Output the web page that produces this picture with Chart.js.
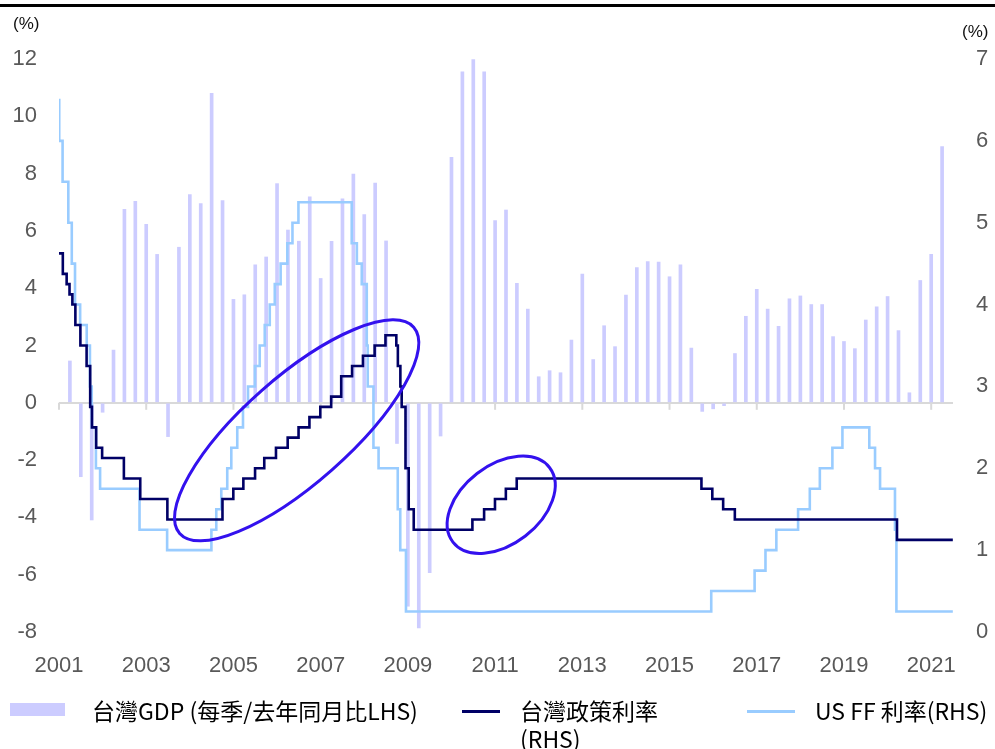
<!DOCTYPE html>
<html>
<head>
<meta charset="utf-8">
<script src="https://cdn.jsdelivr.net/npm/chart.js@4.4.0/dist/chart.umd.min.js"></script>
<style>
  html, body { margin: 0; padding: 0; background: #fff; }
  #wrap { position: relative; width: 995px; height: 749px; overflow: hidden; }
  #chart { position: absolute; left: 0; top: 0; }
  #topRule { position: absolute; left: 0; top: 4px; width: 995px; height: 3px; background: #000; }
  .unit { position: absolute; font: 17px "Liberation Sans", Arial, sans-serif; color: #111; }
  .legend-item { position: absolute; font: 23px "Noto Sans CJK TC", sans-serif; color: #000; line-height: 28px; white-space: nowrap; }
  .legend-swatch { position: absolute; }
</style>
</head>
<body>
<div id="wrap">
  <canvas id="chart" width="995" height="749"></canvas>
  <div id="topRule"></div>
  <div class="unit" style="left:13px; top:14px;">(%)</div>
  <div class="unit" style="left:962px; top:22px;">(%)</div>
  <div id="legend"></div>
</div>
<script>
// Quarterly Taiwan GDP, y/y % (left axis)
const gdpQuarters = [
  "2001Q1", "2001Q2", "2001Q3", "2001Q4",
  "2002Q1", "2002Q2", "2002Q3", "2002Q4",
  "2003Q1", "2003Q2", "2003Q3", "2003Q4",
  "2004Q1", "2004Q2", "2004Q3", "2004Q4",
  "2005Q1", "2005Q2", "2005Q3", "2005Q4",
  "2006Q1", "2006Q2", "2006Q3", "2006Q4",
  "2007Q1", "2007Q2", "2007Q3", "2007Q4",
  "2008Q1", "2008Q2", "2008Q3", "2008Q4",
  "2009Q1", "2009Q2", "2009Q3", "2009Q4",
  "2010Q1", "2010Q2", "2010Q3", "2010Q4",
  "2011Q1", "2011Q2", "2011Q3", "2011Q4",
  "2012Q1", "2012Q2", "2012Q3", "2012Q4",
  "2013Q1", "2013Q2", "2013Q3", "2013Q4",
  "2014Q1", "2014Q2", "2014Q3", "2014Q4",
  "2015Q1", "2015Q2", "2015Q3", "2015Q4",
  "2016Q1", "2016Q2", "2016Q3", "2016Q4",
  "2017Q1", "2017Q2", "2017Q3", "2017Q4",
  "2018Q1", "2018Q2", "2018Q3", "2018Q4",
  "2019Q1", "2019Q2", "2019Q3", "2019Q4",
  "2020Q1", "2020Q2", "2020Q3", "2020Q4",
  "2021Q1"
];
const gdpValues = [
  1.46, -2.58, -4.09, -0.33,
  1.84, 6.75, 7.03, 6.23,
  5.18, -1.18, 5.43, 7.27,
  6.95, 10.8, 7.06, 3.61,
  3.77, 4.82, 5.09, 7.65,
  6.03, 5.64, 7.19, 4.34,
  5.64, 7.12, 7.98, 6.57,
  7.67, 5.65, -1.42, -7.1,
  -7.86, -5.93, -1.16, 8.57,
  11.55, 11.98, 11.55, 6.36,
  6.73, 4.17, 3.27, 0.91,
  1.12, 1.05, 2.19, 4.49,
  1.51, 2.69, 1.96, 3.76,
  4.72, 4.93, 4.91, 4.4,
  4.82, 1.91, -0.3, -0.21,
  -0.1, 1.72, 3.02, 3.96,
  3.27, 2.67, 3.63, 3.73,
  3.43, 3.43, 2.31, 2.14,
  1.89, 2.89, 3.35, 3.71,
  2.52, 0.35, 4.27, 5.18,
  8.94
];

// Taiwan policy (rediscount) rate, date of each change (right axis)
const twRateDates = [
  "2001-01-01", "2001-02-02", "2001-03-06", "2001-03-30", "2001-04-23", "2001-05-18",
  "2001-06-29", "2001-08-20", "2001-09-19", "2001-10-04", "2001-11-08", "2001-12-28",
  "2002-06-28", "2002-11-12", "2003-06-27", "2004-10-01", "2004-12-31",
  "2005-03-25", "2005-07-01", "2005-09-16", "2005-12-23",
  "2006-03-31", "2006-06-30", "2006-09-29", "2006-12-29",
  "2007-03-30", "2007-06-22", "2007-09-21", "2007-12-21",
  "2008-03-28", "2008-06-27", "2008-09-26", "2008-10-09", "2008-10-30", "2008-11-10", "2008-12-12",
  "2009-01-08", "2009-02-19", "2010-06-25", "2010-10-01", "2010-12-31", "2011-04-01", "2011-07-01",
  "2015-09-25", "2015-12-25", "2016-03-25", "2016-07-01", "2020-03-20", "2021-07-01"
];
const twRateValues = [
  4.625, 4.375, 4.25, 4.125, 4.0, 3.75,
  3.5, 3.25, 2.75, 2.5, 2.25, 2.125,
  1.875, 1.625, 1.375, 1.625, 1.75,
  1.875, 2.0, 2.125, 2.25,
  2.375, 2.5, 2.625, 2.75,
  2.875, 3.125, 3.25, 3.375,
  3.5, 3.625, 3.5, 3.25, 3.0, 2.75, 2.0,
  1.5, 1.25, 1.375, 1.5, 1.625, 1.75, 1.875,
  1.75, 1.625, 1.5, 1.375, 1.125, 1.125
];

// US fed funds target rate, date of each change (right axis)
const usRateDates = [
  "2001-01-01", "2001-01-03", "2001-01-31", "2001-03-20", "2001-04-18", "2001-05-15",
  "2001-06-27", "2001-08-21", "2001-09-17", "2001-10-02", "2001-11-06", "2001-12-11",
  "2002-11-06", "2003-06-25",
  "2004-06-30", "2004-08-10", "2004-09-21", "2004-11-10", "2004-12-14",
  "2005-02-02", "2005-03-22", "2005-05-03", "2005-06-30", "2005-08-09", "2005-09-20", "2005-11-01", "2005-12-13",
  "2006-01-31", "2006-03-28", "2006-05-10", "2006-06-29",
  "2007-09-18", "2007-10-31", "2007-12-11",
  "2008-01-22", "2008-01-30", "2008-03-18", "2008-04-30", "2008-10-08", "2008-10-29", "2008-12-16",
  "2015-12-16", "2016-12-14", "2017-03-15", "2017-06-14", "2017-12-13",
  "2018-03-21", "2018-06-13", "2018-09-26", "2018-12-19",
  "2019-08-01", "2019-09-18", "2019-10-30", "2020-03-03", "2020-03-15", "2021-07-01"
];
const usRateValues = [
  6.5, 6.0, 5.5, 5.0, 4.5, 4.0,
  3.75, 3.5, 3.0, 2.5, 2.0, 1.75,
  1.25, 1.0,
  1.25, 1.5, 1.75, 2.0, 2.25,
  2.5, 2.75, 3.0, 3.25, 3.5, 3.75, 4.0, 4.25,
  4.5, 4.75, 5.0, 5.25,
  4.75, 4.5, 4.25,
  3.5, 3.0, 2.25, 2.0, 1.5, 1.0, 0.25,
  0.5, 0.75, 1.0, 1.25, 1.5,
  1.75, 2.0, 2.25, 2.5,
  2.25, 2.0, 1.75, 1.25, 0.25, 0.25
];

// Axis ticks
const yearTicks = [2001, 2003, 2005, 2007, 2009, 2011, 2013, 2015, 2017, 2019, 2021];
const leftTicks = [-8, -6, -4, -2, 0, 2, 4, 6, 8, 10, 12];
const rightTicks = [0, 1, 2, 3, 4, 5, 6, 7];

// Highlight rings: centre in data units, radii in px, tilt in degrees
const highlightRings = [
  { x: 2006.45, y: -0.96, rx: 156, ry: 53, tilt: -41.4 },
  { x: 2011.14, y: -3.56, rx: 61, ry: 39.5, tilt: -37.7 }
];

const legendItems = [
  { label: "台灣GDP (每季/去年同月比LHS)", color: "#ccccff", kind: "box" },
  { label: "台灣政策利率<br>(RHS)", color: "#000066", kind: "line" },
  { label: "US FF 利率(RHS)", color: "#99ccff", kind: "line" }
];

// decimal year helpers
function quarterPos(q) {
  return parseInt(q.slice(0, 4)) + parseInt(q.slice(5)) / 4;
}
function datePos(d) {
  const [yy, mm, dd] = d.split("-").map(Number);
  const start = Date.UTC(yy, 0, 1);
  const end = Date.UTC(yy + 1, 0, 1);
  return yy + (Date.UTC(yy, mm - 1, dd) - start) / (end - start);
}

const axisFont = { family: "'Liberation Sans', Arial, sans-serif", size: 22 };
const axisColor = "#595959";

// zero line tick marks under each year label
const zeroTicks = {
  id: "zeroTicks",
  beforeDatasetsDraw(chart) {
    const { ctx, scales } = chart;
    const y0 = scales.y.getPixelForValue(0);
    ctx.save();
    ctx.strokeStyle = "#d9d9d9";
    ctx.lineWidth = 2;
    yearTicks.forEach((v) => {
      const px = scales.x.getPixelForValue(v);
      ctx.beginPath();
      ctx.moveTo(px, y0);
      ctx.lineTo(px, y0 + 7);
      ctx.stroke();
    });
    ctx.restore();
  }
};

// rings drawn over the rate lines
const rings = {
  id: "rings",
  afterDatasetsDraw(chart) {
    const { ctx, scales } = chart;
    ctx.save();
    ctx.strokeStyle = "#3311ee";
    ctx.lineWidth = 3;
    highlightRings.forEach((r) => {
      ctx.beginPath();
      ctx.ellipse(
        scales.x.getPixelForValue(r.x),
        scales.y.getPixelForValue(r.y),
        r.rx, r.ry, (r.tilt * Math.PI) / 180, 0, Math.PI * 2
      );
      ctx.stroke();
    });
    ctx.restore();
  }
};

const ctx = document.getElementById("chart").getContext("2d");
new Chart(ctx, {
  type: "bar",
  data: {
    datasets: [
      {
        type: "line",
        label: "台灣政策利率 (RHS)",
        data: twRateDates.map((d, i) => ({ x: datePos(d), y: twRateValues[i] })),
        yAxisID: "y2",
        borderColor: "#000066",
        borderWidth: 2.6,
        stepped: "before",
        pointRadius: 0,
        fill: false,
        order: 0
      },
      {
        type: "line",
        label: "US FF 利率(RHS)",
        data: usRateDates.map((d, i) => ({ x: datePos(d), y: usRateValues[i] })),
        yAxisID: "y2",
        borderColor: "#99ccff",
        borderWidth: 2.6,
        stepped: "before",
        pointRadius: 0,
        fill: false,
        order: 1
      },
      {
        type: "bar",
        label: "台灣GDP (每季/去年同月比LHS)",
        data: gdpQuarters.map((q, i) => ({ x: quarterPos(q), y: gdpValues[i] })),
        yAxisID: "y",
        backgroundColor: "#ccccff",
        barThickness: 3,
        order: 2
      }
    ]
  },
  options: {
    responsive: false,
    animation: false,
    layout: { padding: { top: 59, right: 0, bottom: 0, left: 0 } },
    plugins: { legend: { display: false }, tooltip: { enabled: false } },
    scales: {
      x: {
        type: "linear",
        min: 2001,
        max: 2021.5,
        offset: false,
        grid: { display: false, offset: false },
        border: { display: false },
        afterBuildTicks: (scale) => {
          scale.ticks = yearTicks.map((v) => ({ value: v }));
        },
        afterFit: (scale) => {
          scale.height = 117;
        },
        ticks: {
          font: axisFont,
          color: axisColor,
          padding: 13,
          maxRotation: 0,
          autoSkip: false,
          callback: (v) => String(v)
        }
      },
      y: {
        position: "left",
        min: -8,
        max: 12,
        grid: {
          drawTicks: false,
          lineWidth: 2,
          color: (c) => (c.tick && c.tick.value === 0 ? "#d9d9d9" : "rgba(0,0,0,0)")
        },
        border: { display: false },
        afterBuildTicks: (scale) => {
          scale.ticks = leftTicks.map((v) => ({ value: v }));
        },
        afterFit: (scale) => {
          scale.width = 59;
        },
        ticks: { font: axisFont, color: axisColor, padding: 22 }
      },
      y2: {
        position: "right",
        min: 0,
        max: 7,
        grid: { display: false, drawTicks: false },
        border: { display: false },
        afterBuildTicks: (scale) => {
          scale.ticks = rightTicks.map((v) => ({ value: v }));
        },
        afterFit: (scale) => {
          scale.width = 42;
        },
        ticks: { font: axisFont, color: axisColor, padding: 23 }
      }
    }
  },
  plugins: [zeroTicks, rings]
});

// Legend under the chart
const legendPositions = [
  { swatch: [10, 703, 55, 13], text: [92, 696] },
  { swatch: [462, 710, 38, 3], text: [520, 696] },
  { swatch: [747, 710, 48, 3], text: [815, 696] }
];
const legendBox = document.getElementById("legend");
legendItems.forEach((item, index) => {
  const pos = legendPositions[index];
  const sw = document.createElement("div");
  sw.classList.add("legend-swatch");
  sw.style.cssText = `left:${pos.swatch[0]}px;top:${pos.swatch[1]}px;width:${pos.swatch[2]}px;height:${pos.swatch[3]}px;background:${item.color};`;
  legendBox.appendChild(sw);
  const label = document.createElement("div");
  label.classList.add("legend-item");
  label.style.left = pos.text[0] + "px";
  label.style.top = pos.text[1] + "px";
  label.innerHTML = item.label;
  legendBox.appendChild(label);
});
</script>
</body>
</html>
